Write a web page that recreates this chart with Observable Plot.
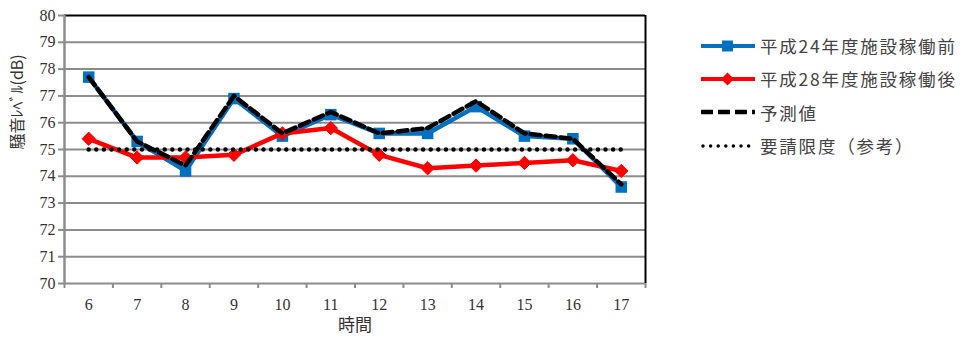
<!DOCTYPE html>
<html>
<head>
<meta charset="utf-8">
<script src="https://cdn.jsdelivr.net/npm/d3@7"></script>
<script src="https://cdn.jsdelivr.net/npm/@observablehq/plot@0.6"></script>
<style>
  body { margin: 0; background: #fff; }
  #wrap { position: relative; width: 963px; height: 341px; }
  #legend { position: absolute; left: 700px; top: 29px; font-family: "Noto Sans CJK JP", sans-serif;
            font-size: 17.5px; color: #444; letter-spacing: 1.8px; }
  .row { display: flex; align-items: center; height: 33.3px; white-space: nowrap; }
  .row svg { margin-right: 4px; flex: none; }
</style>
</head>
<body>
<div id="wrap">
  <div id="chart"></div>
  <div id="legend"></div>
</div>
<script>
// 時刻別の騒音レベル(dB)
const hours = [6, 7, 8, 9, 10, 11, 12, 13, 14, 15, 16, 17];
const h24Before = [77.7, 75.3, 74.2, 76.9, 75.5, 76.3, 75.6, 75.6, 76.6, 75.5, 75.4, 73.6];
const h28After  = [75.4, 74.7, 74.7, 74.8, 75.6, 75.8, 74.8, 74.3, 74.4, 74.5, 74.6, 74.2];
const predicted = [77.7, 75.3, 74.4, 77.0, 75.6, 76.4, 75.6, 75.8, 76.8, 75.6, 75.4, 73.7];
const limitLevel = 75;

const seriesNames = ["平成24年度施設稼働前", "平成28年度施設稼働後", "予測値", "要請限度（参考）"];
const yTicks = [70, 71, 72, 73, 74, 75, 76, 77, 78, 79, 80];
const yTitle = "騒音ﾚﾍﾞﾙ(dB)";
const xTitle = "時間";

const BLUE = "#0070C0", RED = "#FF0000";
const SERIF = "'Liberation Serif', 'DejaVu Serif', serif";
const JP = "'Noto Sans CJK JP', sans-serif";

const rows = (vals) => hours.map((h, i) => ({hour: h, value: vals[i]}));
const blueData = rows(h24Before);
const redData = rows(h28After);
const predData = rows(predicted);
const limitData = hours.map(h => ({hour: h, value: limitLevel}));

// category boundaries for the x tick marks
const xEdges = [hours[0] - 0.5, ...hours.map(h => h + 0.5)];
const xMin = xEdges[0], xMax = xEdges[xEdges.length - 1];

const chart = Plot.plot({
  width: 963,
  height: 341,
  marginLeft: 64,
  marginRight: 318,
  marginTop: 15,
  marginBottom: 58,
  style: {fontFamily: SERIF, fontSize: "16px", color: "#333", background: "#fff"},
  x: {domain: [xMin, xMax]},
  y: {domain: [yTicks[0], yTicks[yTicks.length - 1]]},
  marks: [
    Plot.ruleY(yTicks.slice(1, -1), {stroke: "#8c8c8c", strokeWidth: 2}),
    Plot.ruleY([yTicks[yTicks.length - 1]], {stroke: "#000", strokeWidth: 2}),
    Plot.ruleX([xMax], {stroke: "#000", strokeWidth: 2}),
    Plot.ruleY([yTicks[0]], {stroke: "#8c8c8c", strokeWidth: 2}),
    Plot.ruleX([xMin], {stroke: "#8c8c8c", strokeWidth: 2.5}),
    Plot.axisY({ticks: yTicks, tickSize: 6, tickPadding: 3, stroke: "#8c8c8c", strokeWidth: 2, label: null,
                tickFormat: d => String(d), fontFamily: SERIF, fontSize: 16, fill: "#333"}),
    Plot.axisX({ticks: xEdges, tickSize: 5, stroke: "#8c8c8c", strokeWidth: 2, tickFormat: () => "", label: null}),
    Plot.axisX({ticks: hours, tickSize: 0, tickPadding: 15, label: null, tickFormat: d => String(d),
                fontFamily: SERIF, fontSize: 16, fill: "#333"}),
    Plot.text([yTitle], {frameAnchor: "left", dx: -47, rotate: -90, fontFamily: JP, fontSize: 16, fill: "#333"}),
    Plot.text([xTitle], {frameAnchor: "bottom", dy: 47, fontFamily: JP, fontSize: 17, fill: "#333"}),
    // 平成24年度
    Plot.line(blueData, {x: "hour", y: "value", stroke: BLUE, strokeWidth: 4.5}),
    Plot.dot(blueData, {x: "hour", y: "value", symbol: "square", r: 6.5, fill: BLUE}),
    // 平成28年度
    Plot.line(redData, {x: "hour", y: "value", stroke: RED, strokeWidth: 4.5}),
    Plot.dot(redData, {x: "hour", y: "value", symbol: "diamond2", r: 6, fill: RED, stroke: RED, strokeWidth: 1}),
    // 予測値
    Plot.line(predData, {x: "hour", y: "value", stroke: "#000", strokeWidth: 4.5, strokeDasharray: "10 5"}),
    // 要請限度
    Plot.line(limitData, {x: "hour", y: "value", stroke: "#000", strokeWidth: 4.5, strokeDasharray: "0 7.6", strokeLinecap: "round"})
  ]
});
document.getElementById("chart").append(chart);

// legend
const swatches = [
  `<svg width="56" height="14"><line x1="1" x2="55" y1="7" y2="7" stroke="${BLUE}" stroke-width="4"/><rect x="22" y="1.5" width="11" height="11" fill="${BLUE}"/></svg>`,
  `<svg width="56" height="14"><line x1="1" x2="55" y1="7" y2="7" stroke="${RED}" stroke-width="4"/><path d="M27.5,0.5L34,7L27.5,13.5L21,7Z" fill="${RED}"/></svg>`,
  `<svg width="56" height="14"><line x1="1" x2="55" y1="7" y2="7" stroke="#000" stroke-width="4.5" stroke-dasharray="12 5"/></svg>`,
  `<svg width="56" height="14"><line x1="3" x2="55" y1="7" y2="7" stroke="#000" stroke-width="3.5" stroke-dasharray="0 7.6" stroke-linecap="round"/></svg>`
];
document.getElementById("legend").innerHTML = seriesNames
  .map((name, i) => `<div class="row">${swatches[i]}<span>${name}</span></div>`).join("");
</script>
</body>
</html>
